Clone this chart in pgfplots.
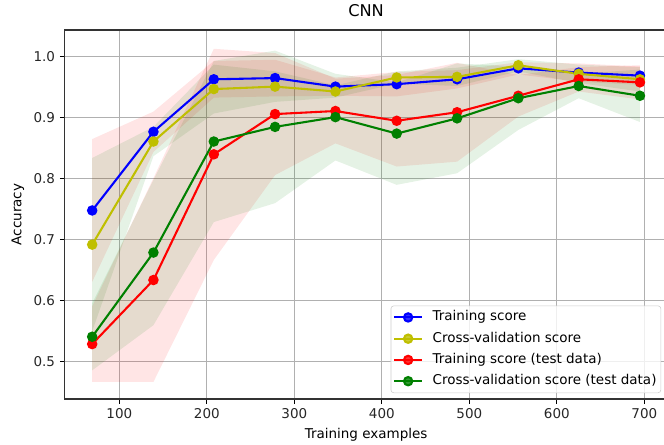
\documentclass[border=0pt]{standalone}
\usepackage{pgfplots}
\pgfplotsset{compat=1.18}
\usepackage{fontspec}
\setmainfont{DejaVu Sans}

\definecolor{myyellow}{rgb}{0.75,0.75,0}
\definecolor{mygreen}{rgb}{0,0.5,0}

\begin{document}
\begin{tikzpicture}
\clip (-46.66bp,-32.4bp) rectangle (431.4bp,287.3bp);
\begin{axis}[
  at={(0,0)}, anchor=south west,
  scale only axis, width=433.8bp, height=265.7bp,
  xmin=37.7, xmax=726.3, ymin=0.4389, ymax=1.0438,
  xtick={100,200,300,400,500,600,700},
  ytick={0.5,0.6,0.7,0.8,0.9,1.0},
  yticklabel style={/pgf/number format/fixed, /pgf/number format/precision=1, /pgf/number format/fixed zerofill},
  /pgf/number format/assume math mode=true,
  ticklabel style={font=\fontsize{9.75}{11.7}\selectfont, color=black!85},
  grid=major, grid style={color=black!31, line width=0.8bp},
  tick pos=left, tick align=outside, major tick length=3.5bp,
  tick style={black, line width=0.8bp},
  axis line style={line width=0.8bp, black!80},
  title={CNN}, title style={font=\fontsize{11.7}{14}\selectfont, yshift=0bp},
  xlabel={Training examples}, ylabel={Accuracy},
  label style={font=\fontsize{9.75}{11.7}\selectfont},
  legend cell align=left,
  legend style={at={(1,0)}, anchor=south east, xshift=-4.5bp, yshift=4.3bp,
    draw=black!20, fill=white, fill opacity=0.8, text opacity=1, rounded corners=2bp,
    font=\fontsize{9.75}{11.7}\selectfont,
    nodes={text height=7.5bp, text depth=2.5bp, inner ysep=1.5bp, inner xsep=1.5bp},
    row sep=2.3bp, inner xsep=1.6bp, inner ysep=1.85bp,
    /tikz/every odd column/.append style={column sep=5.4bp}},
  legend image code/.code={\draw[mark repeat=2, mark phase=2] plot coordinates {(0bp,0bp) (10bp,0bp) (20bp,0bp)};},
]
% bands: upper edge left to right, then lower edge right to left
\addplot[fill=red, fill opacity=0.1, draw=none, forget plot] coordinates {
(69,0.865) (139,0.910) (208,0.993) (278,0.995) (347,0.966) (417,0.975) (486,0.978) (556,0.991) (625,0.989) (695,0.984)
(695,0.954) (625,0.959) (556,0.971) (486,0.948) (417,0.935) (347,0.936) (278,0.935) (208,0.933) (139,0.844) (69,0.631)} -- cycle;
\addplot[fill=mygreen, fill opacity=0.1, draw=none, forget plot] coordinates {
(69,0.834) (139,0.885) (208,0.987) (278,0.976) (347,0.953) (417,0.976) (486,0.982) (556,0.996) (625,0.987) (695,0.983)
(695,0.943) (625,0.957) (556,0.976) (486,0.952) (417,0.956) (347,0.933) (278,0.926) (208,0.907) (139,0.837) (69,0.550)} -- cycle;
\addplot[fill=red, fill opacity=0.1, draw=none, forget plot] coordinates {
(69,0.591) (139,0.801) (208,1.013) (278,1.006) (347,0.964) (417,0.970) (486,0.990) (556,0.970) (625,0.983) (695,0.986)
(695,0.930) (625,0.943) (556,0.902) (486,0.828) (417,0.820) (347,0.858) (278,0.806) (208,0.667) (139,0.467) (69,0.467)} -- cycle;
\addplot[fill=mygreen, fill opacity=0.1, draw=none, forget plot] coordinates {
(69,0.596) (139,0.798) (208,0.993) (278,1.010) (347,0.972) (417,0.958) (486,0.989) (556,0.984) (625,0.972) (695,0.979)
(695,0.893) (625,0.932) (556,0.880) (486,0.809) (417,0.790) (347,0.830) (278,0.760) (208,0.729) (139,0.560) (69,0.486)} -- cycle;
% lines
\addplot[blue, line width=1.5bp, mark=*, mark size=3bp] coordinates {
(69,0.748) (139,0.877) (208,0.963) (278,0.965) (347,0.951) (417,0.955) (486,0.963) (556,0.981) (625,0.974) (695,0.969)};
\addlegendentry{Training score}
\addplot[myyellow, line width=1.5bp, mark=*, mark size=3bp] coordinates {
(69,0.692) (139,0.861) (208,0.947) (278,0.951) (347,0.943) (417,0.966) (486,0.967) (556,0.986) (625,0.972) (695,0.963)};
\addlegendentry{Cross-validation score}
\addplot[red, line width=1.5bp, mark=*, mark size=3bp] coordinates {
(69,0.529) (139,0.634) (208,0.840) (278,0.906) (347,0.911) (417,0.895) (486,0.909) (556,0.936) (625,0.963) (695,0.958)};
\addlegendentry{Training score (test data)}
\addplot[mygreen, line width=1.5bp, mark=*, mark size=3bp] coordinates {
(69,0.541) (139,0.679) (208,0.861) (278,0.885) (347,0.901) (417,0.874) (486,0.899) (556,0.932) (625,0.952) (695,0.936)};
\addlegendentry{Cross-validation score (test data)}
\end{axis}
\end{tikzpicture}
\end{document}
